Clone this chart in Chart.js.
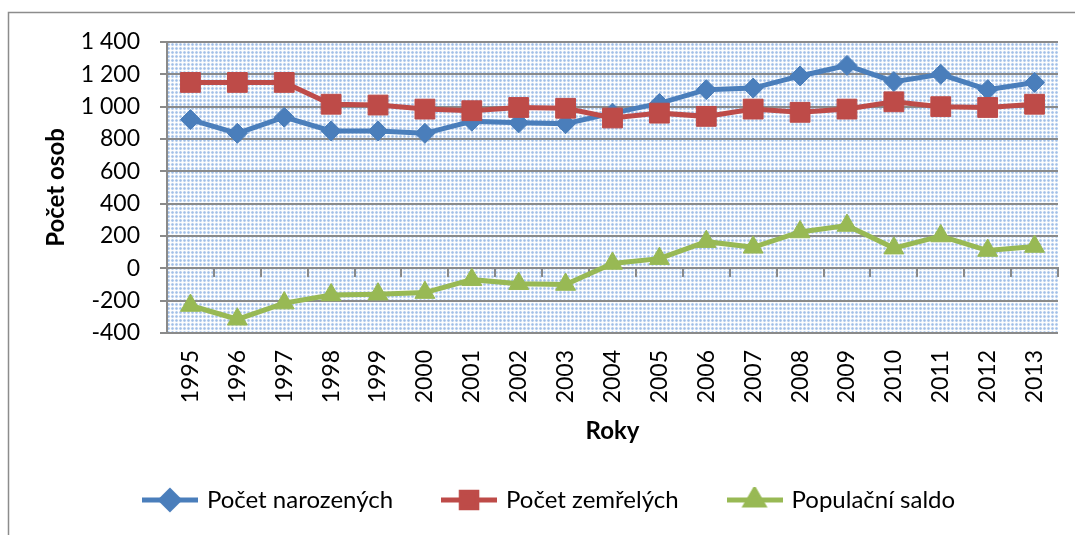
<!DOCTYPE html>
<html>
<head>
<meta charset="utf-8">
<script src="https://cdn.jsdelivr.net/npm/chart.js"></script>
<style>
  html, body { margin: 0; padding: 0; background: #fff; }
  #wrap { width: 1075px; height: 535px; }
</style>
</head>
<body>
<div id="wrap"><canvas id="chart"></canvas></div>
<script>
// data
const years = ['1995', '1996', '1997', '1998', '1999', '2000', '2001', '2002', '2003', '2004',
               '2005', '2006', '2007', '2008', '2009', '2010', '2011', '2012', '2013'];
const narozeni = [920, 835, 935, 850, 850, 835, 910, 900, 895, 960, 1020, 1105, 1115, 1190, 1255, 1155, 1200, 1105, 1150];
const zemreli  = [1150, 1150, 1150, 1015, 1010, 985, 975, 995, 990, 930, 960, 940, 985, 965, 985, 1030, 1000, 995, 1015];
const saldo    = [-230, -315, -215, -165, -160, -150, -70, -95, -100, 30, 60, 165, 130, 225, 265, 125, 200, 110, 135];
const yTickLabels = ['-400', '-200', '0', '200', '400', '600', '800', '1 000', '1 200', '1 400'];
const seriesNames = ['Počet narozených', 'Počet zemřelých', 'Populační saldo'];

const FONT = 'Lato, "Open Sans", sans-serif';
const GRID = '#8a8a8a';
const colors = ['#4A7EBB', '#BE4B48', '#98B954'];
const styles = ['rectRot', 'rect', 'triangle'];

// modrá kostkovaná výplň plochy grafu
function makePattern(ctx) {
    const t = document.createElement('canvas');
    t.width = 4; t.height = 4;
    const c = t.getContext('2d');
    c.fillStyle = '#dce7f5';
    c.fillRect(0, 0, 4, 4);
    c.fillStyle = 'rgba(140,178,228,0.5)';
    c.fillRect(0, 0, 1, 4);
    c.fillRect(0, 0, 4, 1);
    c.fillStyle = 'rgba(255,255,255,0.9)';
    c.fillRect(2, 0, 1, 4);
    c.fillRect(0, 2, 4, 1);
    return ctx.createPattern(t, 'repeat');
}

// ikony legendy: čára + značka
function legendIcon(i) {
    const cv = document.createElement('canvas');
    cv.width = 56; cv.height = 26;
    const c = cv.getContext('2d');
    c.strokeStyle = colors[i];
    c.lineWidth = 5;
    c.beginPath();
    c.moveTo(0, 13); c.lineTo(56, 13);
    c.stroke();
    c.fillStyle = colors[i];
    c.strokeStyle = colors[i];
    const r = [9, 11, 10][i];
    Chart.helpers.drawPoint(c, { pointStyle: styles[i], radius: r, rotation: 0, borderWidth: 1 }, 28, 13);
    return cv;
}
const legendIcons = [0, 1, 2].map(legendIcon);

const backgroundPlugin = {
    id: 'plotBackground',
    beforeDraw(chart) {
        const { ctx, chartArea: a } = chart;
        ctx.save();
        ctx.fillStyle = makePattern(ctx);
        ctx.fillRect(a.left, a.top, a.right - a.left, a.bottom - a.top);
        // rámeček kolem grafu (jen horní a levá strana jsou vidět)
        ctx.strokeStyle = '#8c8c8c';
        ctx.lineWidth = 1.5;
        ctx.beginPath();
        ctx.moveTo(8.5, 535);
        ctx.lineTo(8.5, 12.5);
        ctx.lineTo(1075, 12.5);
        ctx.stroke();
        ctx.restore();
    }
};

const radii = [10, 14, 11.5];
const datasets = [narozeni, zemreli, saldo].map((data, i) => ({
    label: seriesNames[i],
    data: data,
    borderColor: colors[i],
    backgroundColor: colors[i],
    borderWidth: 5,
    pointStyle: styles[i],
    pointRadius: radii[i],
    pointHoverRadius: radii[i],
    pointBackgroundColor: colors[i],
    pointBorderColor: colors[i],
    pointBorderWidth: 1,
    tension: 0,
    clip: false,
    order: 3 - i
}));

new Chart(document.getElementById('chart'), {
    type: 'line',
    data: { labels: years, datasets },
    plugins: [backgroundPlugin],
    options: {
        responsive: true,
        maintainAspectRatio: false,
        animation: false,
        layout: { padding: { top: 42, right: 17, left: 42, bottom: 13 } },
        plugins: {
            tooltip: { enabled: false },
            legend: {
                position: 'bottom',
                labels: {
                    usePointStyle: true,
                    pointStyleWidth: 50,
                    padding: 51,
                    color: '#000',
                    font: { family: FONT, size: 24 },
                    generateLabels: chart => chart.data.datasets.map((ds, i) => ({
                        text: ds.label,
                        pointStyle: legendIcons[i],
                        fillStyle: ds.borderColor,
                        strokeStyle: ds.borderColor,
                        lineWidth: 0,
                        fontColor: '#000',
                        hidden: !chart.isDatasetVisible(i),
                        datasetIndex: i
                    }))
                }
            }
        },
        scales: {
            x: {
                type: 'category',
                offset: true,
                afterFit: s => { s.height = 104; },
                grid: { display: false },
                border: { display: false },
                ticks: {
                    color: '#000',
                    font: { family: FONT, size: 23 },
                    minRotation: 90,
                    maxRotation: 90,
                    padding: 9,
                    autoSkip: false
                },
                title: {
                    display: true,
                    text: 'Roky',
                    color: '#000',
                    font: { family: FONT, size: 24, weight: 'bold' },
                    padding: { top: 0, bottom: -9 }
                }
            },
            // osa x vedená nulou s čárkami mezi roky
            x0: {
                type: 'category',
                axis: 'x',
                offset: true,
                position: { y: 0 },
                grid: {
                    offset: true,
                    drawOnChartArea: false,
                    drawTicks: true,
                    tickLength: 8,
                    color: GRID,
                    lineWidth: 2
                },
                border: { display: true, color: GRID, width: 2 },
                ticks: { display: false }
            },
            y: {
                min: -400,
                max: 1400,
                afterFit: s => { s.width = 125; },
                ticks: {
                    stepSize: 200,
                    color: '#000',
                    padding: 20,
                    font: { family: FONT, size: 23 },
                    callback: (v, i) => yTickLabels[i]
                },
                grid: { color: GRID, lineWidth: 2, tickLength: 7 },
                border: { display: true, color: GRID, width: 2 },
                title: {
                    display: true,
                    text: 'Počet osob',
                    color: '#000',
                    font: { family: FONT, size: 24, weight: 'bold' },
                    padding: { top: 0, bottom: 0 }
                }
            }
        }
    }
});
</script>
</body>
</html>
